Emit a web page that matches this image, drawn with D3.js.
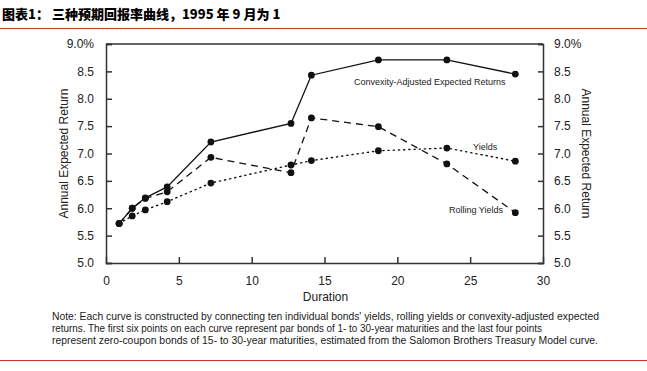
<!DOCTYPE html>
<html><head><meta charset="utf-8">
<script src="https://cdn.jsdelivr.net/npm/d3@7"></script>
<style>body{margin:0;background:#fff}svg{display:block}</style>
</head><body>
<svg id="c" width="647" height="371"></svg>
<script>
const durations = [0.9, 1.8, 2.7, 4.2, 7.2, 12.7, 14.1, 18.7, 23.4, 28.1];
const convexity = [5.72, 6.0, 6.19, 6.39, 7.21, 7.55, 8.43, 8.71, 8.71, 8.45];
const rolling = [5.72, 6.0, 6.18, 6.30, 6.93, 6.65, 7.65, 7.49, 6.81, 5.92];
const yields = [5.72, 5.86, 5.97, 6.12, 6.46, 6.79, 6.87, 7.05, 7.10, 6.86];
const xTicks = [0, 5, 10, 15, 20, 25, 30];
const yTicks = [5.0, 5.5, 6.0, 6.5, 7.0, 7.5, 8.0, 8.5, 9.0];

const svg = d3.select("#c");
const x = d3.scaleLinear().domain([0, 30]).range([106, 543]);
const y = d3.scaleLinear().domain([5, 9]).range([263, 44]);
const font = "Liberation Sans, Arial, sans-serif";

// title
svg.append("text").attr("x", 2).attr("y", 19).attr("font-family", "Noto Sans CJK SC")
  .attr("font-weight", 900).attr("font-size", 13).attr("fill", "#000")
  .text("图表1：  三种预期回报率曲线，1995 年 9 月为 1");
svg.append("line").attr("x1", 0).attr("x2", 647).attr("y1", 28.5).attr("y2", 28.5)
  .attr("stroke", "#c0392b").attr("stroke-width", 1.2);
svg.append("line").attr("x1", 0).attr("x2", 647).attr("y1", 360.5).attr("y2", 360.5)
  .attr("stroke", "#c0392b").attr("stroke-width", 1.2);

const g = svg.append("g");
g.append("line").attr("x1", x(0)).attr("x2", x(30)).attr("y1", y(9)).attr("y2", y(9)).attr("stroke", "#333").attr("stroke-width", 1.3);

const fmtY = d => d === 9 ? d3.format(".1f")(d) + "%" : d3.format(".1f")(d);
const leftAxis = d3.axisLeft(y).tickValues(yTicks).tickSize(-6).tickPadding(12).tickFormat(fmtY);
const rightAxis = d3.axisRight(y).tickValues(yTicks).tickSize(-5).tickPadding(11).tickFormat(fmtY);
const bottomAxis = d3.axisBottom(x).tickValues(xTicks).tickSize(-6).tickPadding(13).tickFormat(d3.format("d"));

function styleAxis(sel) {
  sel.select(".domain").attr("stroke", "#333").attr("stroke-width", 1.5);
  sel.selectAll(".tick line").attr("stroke", "#333").attr("stroke-width", 1.5);
  sel.selectAll("text").attr("font-family", font).attr("font-size", 12).attr("fill", "#222");
}
g.append("g").attr("transform", `translate(${x(0)},0)`).call(leftAxis).call(styleAxis);
g.append("g").attr("transform", `translate(${x(30)},0)`).call(rightAxis).call(styleAxis);
const bx = g.append("g").attr("transform", `translate(0,${y(5)})`).call(bottomAxis).call(styleAxis);
bx.selectAll(".tick").filter(d => d === 0 || d === 30).select("line").remove();

// axis titles
svg.append("text").attr("transform", `translate(68,${(y(9)+y(5))/2}) rotate(-90)`)
  .attr("text-anchor", "middle").attr("font-family", font).attr("font-size", 12).attr("fill", "#222")
  .text("Annual Expected Return");
svg.append("text").attr("transform", `translate(582,${(y(9)+y(5))/2}) rotate(90)`)
  .attr("text-anchor", "middle").attr("font-family", font).attr("font-size", 12).attr("fill", "#222")
  .text("Annual Expected Return");
svg.append("text").attr("x", (x(0)+x(30))/2 + 1).attr("y", 301).attr("text-anchor", "middle")
  .attr("font-family", font).attr("font-size", 12).attr("fill", "#222").text("Duration");

// series
const series = [
  {vals: yields, dash: "1.2,4", width: 1.4, cap: "round"},
  {vals: rolling, dash: "7,5", width: 1.3, cap: "butt"},
  {vals: convexity, dash: null, width: 1.3, cap: "butt"}
];
const line = d3.line().x(d => x(d[0])).y(d => y(d[1]));
series.forEach(s => {
  const pts = durations.map((d, i) => [d, s.vals[i]]);
  svg.append("path").datum(pts).attr("d", line).attr("fill", "none")
    .attr("stroke", "#111").attr("stroke-width", s.width)
    .attr("stroke-dasharray", s.dash).attr("stroke-linecap", s.cap);
  svg.selectAll(null).data(pts).enter().append("circle")
    .attr("cx", d => x(d[0])).attr("cy", d => y(d[1])).attr("r", 3.4).attr("fill", "#111");
});

// labels
const lab = (t, xx, yy) => svg.append("text").attr("x", xx).attr("y", yy).attr("font-family", font)
  .attr("font-size", 9).attr("fill", "#222").text(t);
lab("Convexity-Adjusted Expected Returns", 354, 85);
lab("Yields", 473, 150);
lab("Rolling Yields", 449, 213);

// note
const notes = [
  "Note: Each curve is constructed by connecting ten individual bonds' yields, rolling yields or convexity-adjusted expected",
  "returns. The first six points on each curve represent par bonds of 1- to 30-year maturities and the last four points",
  "represent zero-coupon bonds of 15- to 30-year maturities, estimated from the Salomon Brothers Treasury Model curve."
];
const lens = [547, 490, 546];
notes.forEach((t, i) => {
  svg.append("text").attr("x", 52).attr("y", 320 + i * 12).attr("font-family", "Liberation Sans Narrow, Arial Narrow, sans-serif")
    .attr("font-size", 10).attr("fill", "#1a1a1a").attr("textLength", lens[i]).attr("lengthAdjust", "spacingAndGlyphs").text(t);
});
</script>
</body></html>
